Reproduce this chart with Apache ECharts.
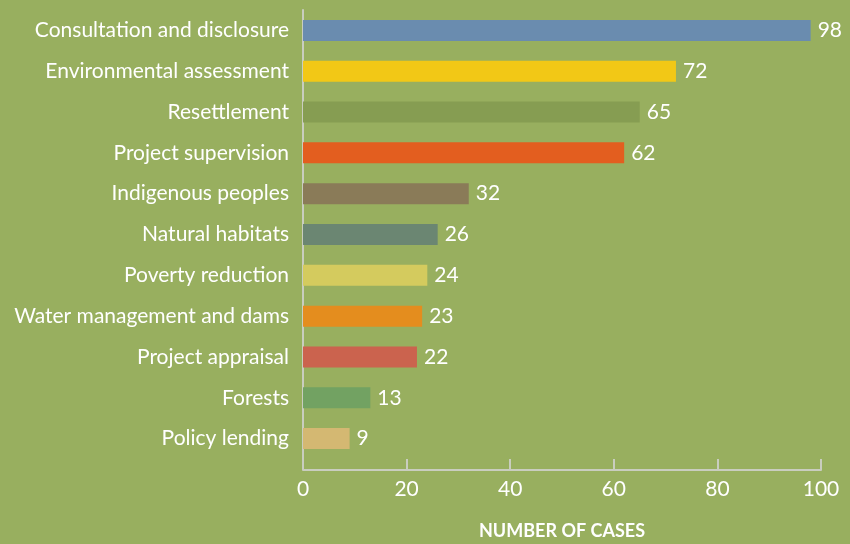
<!DOCTYPE html>
<html>
<head>
<meta charset="utf-8">
<script src="https://cdn.jsdelivr.net/npm/echarts@6/dist/echarts.min.js"></script>
<style>
  html, body { margin: 0; padding: 0; background: #98AF5F; }
  #chart { width: 850px; height: 544px; }
</style>
</head>
<body>
<div id="chart"></div>
<script>
// categories, top to bottom
const categories = [
  'Consultation and disclosure',
  'Environmental assessment',
  'Resettlement',
  'Project supervision',
  'Indigenous peoples',
  'Natural habitats',
  'Poverty reduction',
  'Water management and dams',
  'Project appraisal',
  'Forests',
  'Policy lending'
]
const cases = [98, 72, 65, 62, 32, 26, 24, 23, 22, 13, 9]
const barColors = [
  '#6A8CAF', '#F2C816', '#869D52', '#E35E1F', '#8A7B58', '#6B8672',
  '#D4CB5E', '#E48D1E', '#CB634E', '#72A262', '#D4B872'
]
const xTicks = [0, 20, 40, 60, 80, 100]

const font = 'Lato, "Open Sans", sans-serif'
const axisColor = '#C9CDBF'

const chart = echarts.init(document.getElementById('chart'))
chart.setOption({
  backgroundColor: '#98AF5F',
  animation: false,
  grid: {
    left: 303,
    right: 29,
    top: 10,
    bottom: 85,
    outerBoundsMode: 'none'
  },
  xAxis: {
    type: 'value',
    min: xTicks[0],
    max: xTicks[xTicks.length - 1],
    interval: 20,
    offset: 11,
    name: 'NUMBER OF CASES',
    nameLocation: 'middle',
    nameGap: 52,
    nameTextStyle: {
      color: '#FFFFFF',
      fontFamily: font,
      fontSize: 18,
      fontWeight: 'bold'
    },
    axisLine: { show: true, lineStyle: { color: axisColor, width: 2 } },
    axisTick: { show: true, inside: true, length: 11, lineStyle: { color: axisColor, width: 2 } },
    axisLabel: { color: '#FFFFFF', fontFamily: font, fontSize: 21, margin: 9 },
    splitLine: { show: false }
  },
  yAxis: {
    type: 'category',
    data: categories,
    inverse: true,
    axisLine: { show: true, lineStyle: { color: axisColor, width: 2 } },
    axisTick: { show: false },
    axisLabel: { color: '#FFFFFF', fontFamily: font, fontSize: 21, margin: 14 }
  },
  series: [
    {
      name: 'Cases',
      type: 'bar',
      barWidth: 21,
      data: cases.map((v, i) => ({ value: v, itemStyle: { color: barColors[i] } })),
      label: {
        show: true,
        position: 'right',
        distance: 7,
        color: '#FFFFFF',
        fontFamily: font,
        fontSize: 21
      }
    }
  ]
})
</script>
</body>
</html>
